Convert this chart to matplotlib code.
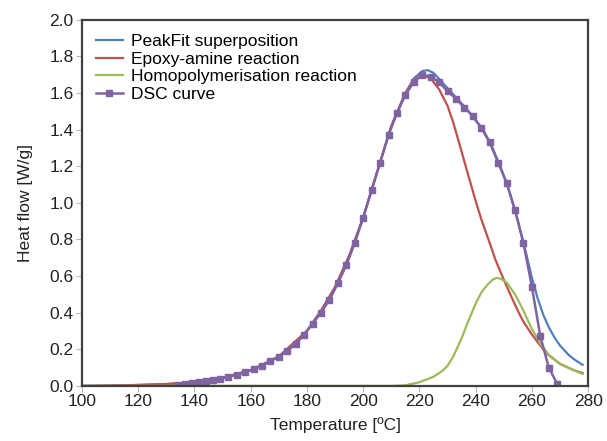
import numpy as np
import matplotlib.pyplot as plt

plt.rcParams['font.family'] = ['Liberation Sans', 'DejaVu Sans']

# Epoxy-amine reaction
red_t = [100, 110, 120, 130, 140, 150, 160, 170, 180, 185, 190, 195, 200, 205,
         210, 215, 218, 221, 224, 227, 230, 232, 235, 237, 240, 242, 245, 247,
         250, 252, 255, 257, 260, 265, 270, 275, 278]
red_v = [0.0, 0.002, 0.005, 0.01, 0.02, 0.045, 0.085, 0.16, 0.30, 0.41, 0.54,
         0.71, 0.92, 1.17, 1.42, 1.60, 1.67, 1.70, 1.68, 1.62, 1.53, 1.44, 1.28,
         1.17, 1.01, 0.91, 0.78, 0.69, 0.58, 0.51, 0.41, 0.35, 0.28, 0.18, 0.12,
         0.085, 0.07]

# PeakFit superposition
blue_t = [100, 110, 120, 130, 140, 150, 160, 170, 180, 185, 190, 195, 200, 205,
          210, 215, 218, 221, 223, 225, 228, 231, 234, 237, 240, 243, 246, 249,
          252, 255, 258, 260, 262, 264, 266, 268, 270, 273, 275, 278]
blue_v = [0.0, 0.002, 0.005, 0.01, 0.02, 0.045, 0.085, 0.16, 0.30, 0.41, 0.54,
          0.71, 0.92, 1.17, 1.42, 1.60, 1.68, 1.72, 1.725, 1.71, 1.66, 1.61,
          1.56, 1.51, 1.45, 1.39, 1.30, 1.19, 1.06, 0.90, 0.72, 0.59, 0.48,
          0.39, 0.32, 0.265, 0.22, 0.17, 0.145, 0.115]

# Homopolymerisation reaction
green_t = [100, 210, 215, 220, 225, 228, 230, 232, 235, 237, 240, 242, 244,
           246, 247.5, 249, 251, 254, 257, 260, 263, 266, 270, 275, 278]
green_v = [0.0, 0.0, 0.003, 0.02, 0.05, 0.08, 0.11, 0.16, 0.26, 0.34, 0.45,
           0.51, 0.55, 0.58, 0.59, 0.585, 0.565, 0.50, 0.41, 0.31, 0.23, 0.17,
           0.12, 0.085, 0.065]

# DSC curve (square markers)
dsc_t = [134, 136.5, 139, 141.5, 144, 146.5, 149, 152, 155, 158, 161, 164, 167,
         170, 173, 176, 179, 182, 185, 188, 191, 194, 197, 200, 203, 206, 209,
         212, 215, 218, 221, 224, 227, 230, 233, 236, 239, 242, 245, 248, 251,
         254, 257, 260, 263, 266, 269]
dsc_v = [0.005, 0.01, 0.015, 0.02, 0.025, 0.03, 0.04, 0.05, 0.06, 0.075, 0.09,
         0.11, 0.135, 0.16, 0.19, 0.23, 0.28, 0.34, 0.40, 0.47, 0.56, 0.66,
         0.78, 0.92, 1.07, 1.22, 1.37, 1.49, 1.59, 1.66, 1.70, 1.69, 1.66, 1.61,
         1.57, 1.52, 1.475, 1.41, 1.33, 1.22, 1.11, 0.96, 0.78, 0.54, 0.27,
         0.10, 0.01]

fig = plt.figure(figsize=(6.07, 4.41), dpi=100)
ax = fig.add_axes([0.135, 0.125, 0.834, 0.830])

ax.plot(blue_t, blue_v, color='#4f81bd', lw=1.6, label='PeakFit superposition')
ax.plot(red_t, red_v, color='#c0504d', lw=1.6, label='Epoxy-amine reaction')
ax.plot(green_t, green_v, color='#9bbb59', lw=1.6, label='Homopolymerisation reaction')
ax.plot(dsc_t, dsc_v, color='#8064a2', lw=1.8, marker='s', ms=4.5,
        label='DSC curve')

ax.set_xlim(100, 280)
ax.set_ylim(0, 2.0)
ax.set_xticks(np.arange(100, 281, 20))
ax.set_yticks(np.arange(0, 2.01, 0.2))
ax.set_yticklabels([f'{v:.1f}' for v in np.arange(0, 2.01, 0.2)])

for s in ax.spines.values():
    s.set_color('#404040')
    s.set_linewidth(1.6)
ax.tick_params(axis='both', direction='out', length=4, width=0.8,
               color='#bbbbbb', labelsize=12.5, labelcolor='#222222', pad=2)

ax.set_xlabel('Temperature [ºC]', fontsize=12.5, color='#222222', labelpad=6)
ax.set_ylabel('Heat flow [W/g]', fontsize=12.5, color='#222222', labelpad=12)

ax.legend(loc='upper left', frameon=False, fontsize=12.5, handlelength=1.55,
          labelspacing=0.15, handletextpad=0.45, borderaxespad=0.4,
          bbox_to_anchor=(0.0, 1.0))

plt.savefig('out.png', dpi=100)
